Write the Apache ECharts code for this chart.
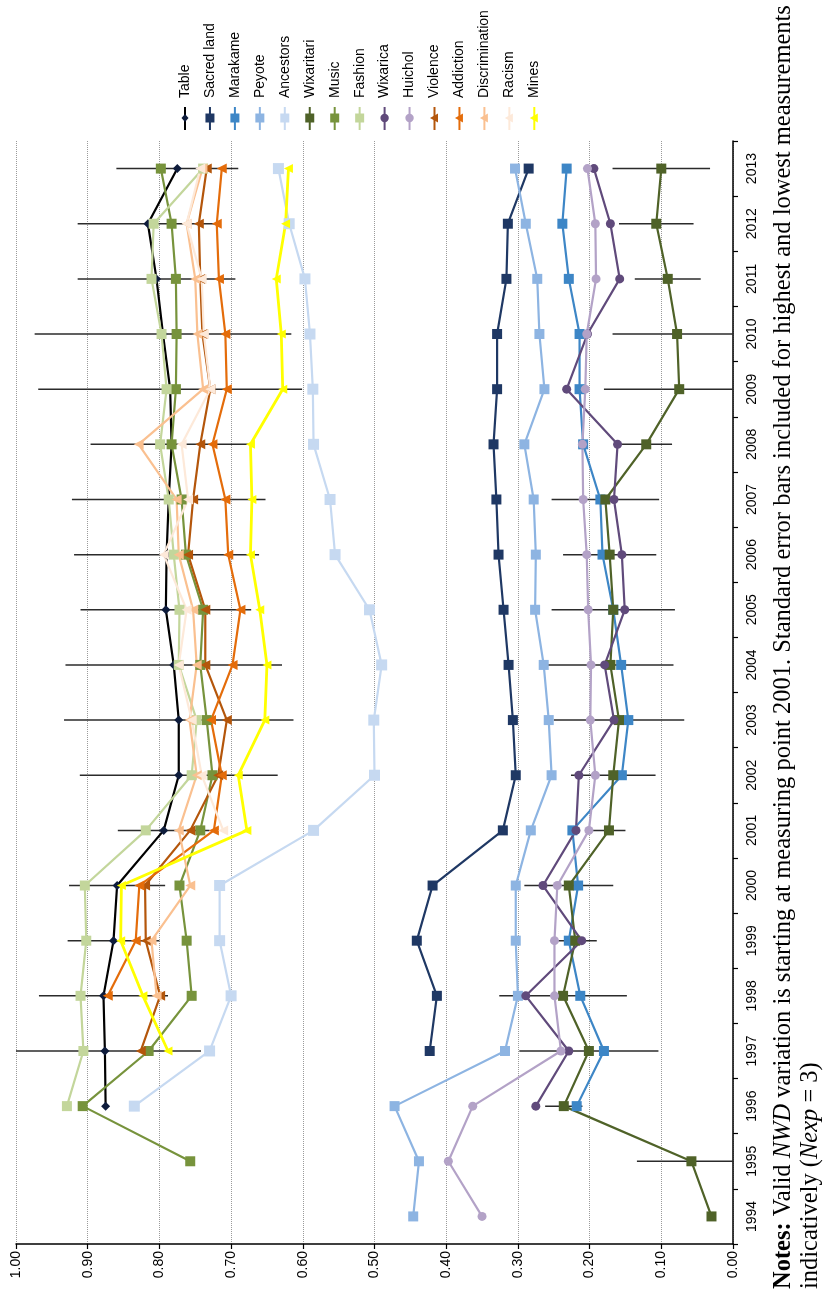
<!DOCTYPE html>
<html>
<head>
<meta charset="utf-8">
<script src="https://cdn.jsdelivr.net/npm/echarts@6/dist/echarts.min.js"></script>
<style>
html,body{margin:0;padding:0;background:#fff;}
#c{width:823px;height:1291px;}
</style>
</head>
<body>
<div id="c"></div>
<script>
const N = null;
const years = ['1994','1995','1996','1997','1998','1999','2000','2001','2002','2003','2004','2005','2006','2007','2008','2009','2010','2011','2012','2013'];
const valueTicks = [0, 0.1, 0.2, 0.3, 0.4, 0.5, 0.6, 0.7, 0.8, 0.9, 1.0];

const table          = [N,N,0.875,0.876,0.878,0.864,0.859,0.794,0.773,0.773,0.780,0.791,0.790,0.787,0.783,0.785,0.795,0.804,0.816,0.775];
const sacredLand     = [N,N,N,0.423,0.413,0.441,0.419,0.321,0.303,0.307,0.313,0.320,0.327,0.330,0.334,0.329,0.329,0.316,0.314,0.285];
const marakame       = [N,N,0.218,0.180,0.213,0.229,0.216,0.224,0.155,0.146,0.156,0.167,0.182,0.185,0.209,0.214,0.214,0.229,0.238,0.232];
const peyote         = [0.446,0.438,0.472,0.318,0.300,0.303,0.303,0.282,0.253,0.257,0.264,0.276,0.275,0.278,0.291,0.263,0.270,0.273,0.289,0.304];
const ancestors      = [N,N,0.835,0.730,0.700,0.716,0.716,0.585,0.500,0.501,0.490,0.507,0.555,0.562,0.585,0.586,0.590,0.597,0.619,0.634];
const wixaritari     = [0.030,0.058,0.236,0.201,0.237,0.220,0.229,0.173,0.167,0.159,0.171,0.167,0.172,0.178,0.121,0.075,0.078,0.091,0.107,0.100];
const music          = [N,0.757,0.907,0.815,0.755,0.762,0.772,0.743,0.726,0.734,0.743,0.739,0.763,0.769,0.783,0.777,0.776,0.777,0.783,0.798];
const fashion        = [N,N,0.929,0.906,0.910,0.902,0.904,0.819,0.755,0.748,0.773,0.772,0.780,0.787,0.799,0.790,0.797,0.811,0.808,0.739];
const wixarica       = [N,N,0.275,0.229,0.289,0.211,0.265,0.219,0.215,0.166,0.179,0.151,0.155,0.166,0.161,0.232,0.203,0.158,0.171,0.194];
const huichol        = [0.350,0.397,0.363,0.240,0.249,0.249,0.245,0.201,0.192,0.199,0.198,0.202,0.204,0.209,0.210,0.206,0.204,0.191,0.192,0.203];
const violence       = [N,N,N,0.826,0.799,0.819,0.820,0.757,0.718,0.706,0.736,0.736,0.760,0.753,0.743,0.729,0.740,0.743,0.745,0.734];
const addiction      = [N,N,N,N,0.872,0.833,0.828,0.724,0.713,0.728,0.698,0.687,0.704,0.708,0.726,0.706,0.708,0.717,0.720,0.713];
const discrimination = [N,N,N,N,0.804,0.811,0.757,0.773,0.748,0.758,0.748,0.753,0.773,0.776,0.829,0.739,0.747,0.750,0.762,0.740];
const racism         = [N,N,N,N,N,N,N,0.711,0.741,0.755,0.773,0.762,0.794,0.760,0.769,0.729,0.738,0.741,0.762,0.743];
const mines          = [N,N,N,0.788,0.823,0.854,0.853,0.678,0.690,0.653,0.650,0.660,0.673,0.671,0.673,0.628,0.630,0.637,0.624,0.620];

// standard errors (half widths) for highest (Table) and lowest (Wixaritari)
const tableErr       = [N,N,N,0.134,0.090,0.064,0.067,0.064,0.138,0.160,0.151,0.119,0.129,0.135,0.113,0.184,0.179,0.110,0.098,0.085];
const wixaritariErr  = [N,0.076,0.026,0.097,0.089,0.030,0.062,0.023,0.059,0.091,0.088,0.086,0.065,0.075,0.036,0.105,0.090,0.046,0.052,0.068];

const seriesDefs = [
  {name:'Table',          data:table,          color:'#0e1c3c', line:'#000000', symbol:'diamond',  size:9,  rot:0},
  {name:'Sacred land',    data:sacredLand,     color:'#1f3864', line:'#1f3864', symbol:'rect',     size:10, rot:0},
  {name:'Marakame',       data:marakame,       color:'#3d86c6', line:'#3d86c6', symbol:'rect',     size:10, rot:0},
  {name:'Peyote',         data:peyote,         color:'#8db4e2', line:'#8db4e2', symbol:'rect',     size:10, rot:0},
  {name:'Ancestors',      data:ancestors,      color:'#c6d9f1', line:'#c6d9f1', symbol:'rect',     size:11, rot:0},
  {name:'Wixaritari',     data:wixaritari,     color:'#4f6228', line:'#4f6228', symbol:'rect',     size:10, rot:0},
  {name:'Music',          data:music,          color:'#77933c', line:'#77933c', symbol:'rect',     size:10, rot:0},
  {name:'Fashion',        data:fashion,        color:'#c3d69b', line:'#c3d69b', symbol:'rect',     size:10, rot:0},
  {name:'Wixarica',       data:wixarica,       color:'#604a7b', line:'#604a7b', symbol:'circle',   size:9,  rot:0},
  {name:'Huichol',        data:huichol,        color:'#b3a2c7', line:'#b3a2c7', symbol:'circle',   size:9,  rot:0},
  {name:'Violence',       data:violence,       color:'#b4560b', line:'#b4560b', symbol:'triangle', size:10, rot:90},
  {name:'Addiction',      data:addiction,      color:'#e46c0a', line:'#e46c0a', symbol:'triangle', size:10, rot:90},
  {name:'Discrimination', data:discrimination, color:'#fac090', line:'#fac090', symbol:'triangle', size:10, rot:90},
  {name:'Racism',         data:racism,         color:'#fde9d9', line:'#fde9d9', symbol:'triangle', size:10, rot:90},
  {name:'Mines',          data:mines,          color:'#ffff00', line:'#ffff00', symbol:'triangle', size:9,  rot:90}
];

function errorSeries(vals, errs) {
  const data = [];
  vals.forEach((v, i) => { if (v != null && errs[i] != null) data.push([v, i, errs[i]]); });
  return {
    type: 'custom', silent: true, z: 1, animation: false,
    encode: {x: 0, y: 1},
    data: data,
    renderItem: function (params, api) {
      const v = api.value(0), i = api.value(1), e = api.value(2);
      const a = api.coord([Math.min(1, v + e), i]);
      const b = api.coord([Math.max(0, v - e), i]);
      return {type: 'line', shape: {x1: a[0], y1: a[1], x2: b[0], y2: b[1]},
              style: {stroke: '#2b2b2b', lineWidth: 1.5}};
    }
  };
}

const series = [errorSeries(table, tableErr), errorSeries(wixaritari, wixaritariErr)];
seriesDefs.forEach(d => {
  series.push({
    type: 'line', name: d.name, data: d.data, z: 2,
    symbol: d.symbol, symbolSize: d.size, symbolRotate: d.rot, showSymbol: true,
    itemStyle: {color: d.color, borderColor: d.color, borderWidth: 0},
    lineStyle: {color: d.line, width: d.name === 'Mines' ? 2.8 : 2.2},
    connectNulls: false, animation: false
  });
});

// legend drawn as graphic (vertical symbols, rotated texts)
const legendGraphics = [];
seriesDefs.forEach((d, k) => {
  const x = 185 + k * 24.95;
  const y = 118;
  legendGraphics.push({type: 'line', shape: {x1: x, y1: 107, x2: x, y2: 130}, style: {stroke: d.line, lineWidth: 2}});
  let mk;
  if (d.symbol === 'rect') mk = {type: 'rect', shape: {x: x - 4.5, y: y - 4.5, width: 9, height: 9}, style: {fill: d.color}};
  else if (d.symbol === 'circle') mk = {type: 'circle', shape: {cx: x, cy: y, r: 4.2}, style: {fill: d.color}};
  else if (d.symbol === 'diamond') mk = {type: 'polygon', shape: {points: [[x, y - 4], [x + 3.5, y], [x, y + 4], [x - 3.5, y]]}, style: {fill: d.color}};
  else mk = {type: 'polygon', shape: {points: [[x - 4.5, y], [x + 3.5, y - 4.5], [x + 3.5, y + 4.5]]}, style: {fill: d.color}};
  legendGraphics.push(mk);
  legendGraphics.push({
    type: 'text', x: x, y: 98, rotation: Math.PI / 2,
    style: {text: d.name, fontFamily: 'Liberation Sans, Arial, sans-serif', fontSize: 14, fill: '#000',
            textAlign: 'left', textVerticalAlign: 'middle'}
  });
});

const NFS = 24.5;
const notesRich = {
  b: {fontFamily: 'Liberation Serif, Times New Roman, serif', fontSize: NFS, fontWeight: 'bold', fill: '#000'},
  i: {fontFamily: 'Liberation Serif, Times New Roman, serif', fontSize: NFS, fontStyle: 'italic', fill: '#000'},
  n: {fontFamily: 'Liberation Serif, Times New Roman, serif', fontSize: NFS, fill: '#000'}
};
legendGraphics.push({
  type: 'text', x: 784, y: 1289, rotation: Math.PI / 2,
  style: {text: '{b|Notes:}{n| Valid }{i|NWD}{n| variation is starting at measuring point 2001. Standard error bars included for highest and lowest measurements}',
          rich: notesRich, textAlign: 'left', textVerticalAlign: 'middle'}
});
legendGraphics.push({
  type: 'text', x: 811, y: 1289, rotation: Math.PI / 2,
  style: {text: '{n|indicatively (}{i|Nexp}{n| = 3)}',
          rich: notesRich, textAlign: 'left', textVerticalAlign: 'middle'}
});

const chart = echarts.init(document.getElementById('c'), null, {renderer: 'canvas'});
chart.setOption({
  animation: false,
  backgroundColor: '#fff',
  textStyle: {fontFamily: 'Liberation Sans, Arial, sans-serif'},
  grid: {left: 16, right: 90, top: 141, bottom: 47, containLabel: false},
  xAxis: {
    type: 'value', min: valueTicks[0], max: valueTicks[valueTicks.length - 1], interval: 0.1,
    inverse: true, position: 'bottom',
    axisLine: {show: true, onZero: false, lineStyle: {color: '#000', width: 1.5}},
    axisTick: {show: true, length: 5, lineStyle: {color: '#000', width: 1.2}},
    axisLabel: {rotate: 90, margin: 7, fontSize: 14, color: '#000', formatter: v => v.toFixed(2)},
    splitLine: {show: true, lineStyle: {type: 'dotted', color: '#9a9a9a', width: 1}}
  },
  yAxis: {
    type: 'category', data: years, position: 'right', boundaryGap: true,
    axisLine: {show: true, onZero: false, lineStyle: {color: '#000', width: 1.5}},
    axisTick: {show: true, length: 5, lineStyle: {color: '#000', width: 1.2}},
    axisLabel: {rotate: 90, margin: 12, fontSize: 14, color: '#000'},
    splitLine: {show: false}
  },
  graphic: legendGraphics,
  series: series
});
</script>
</body>
</html>
